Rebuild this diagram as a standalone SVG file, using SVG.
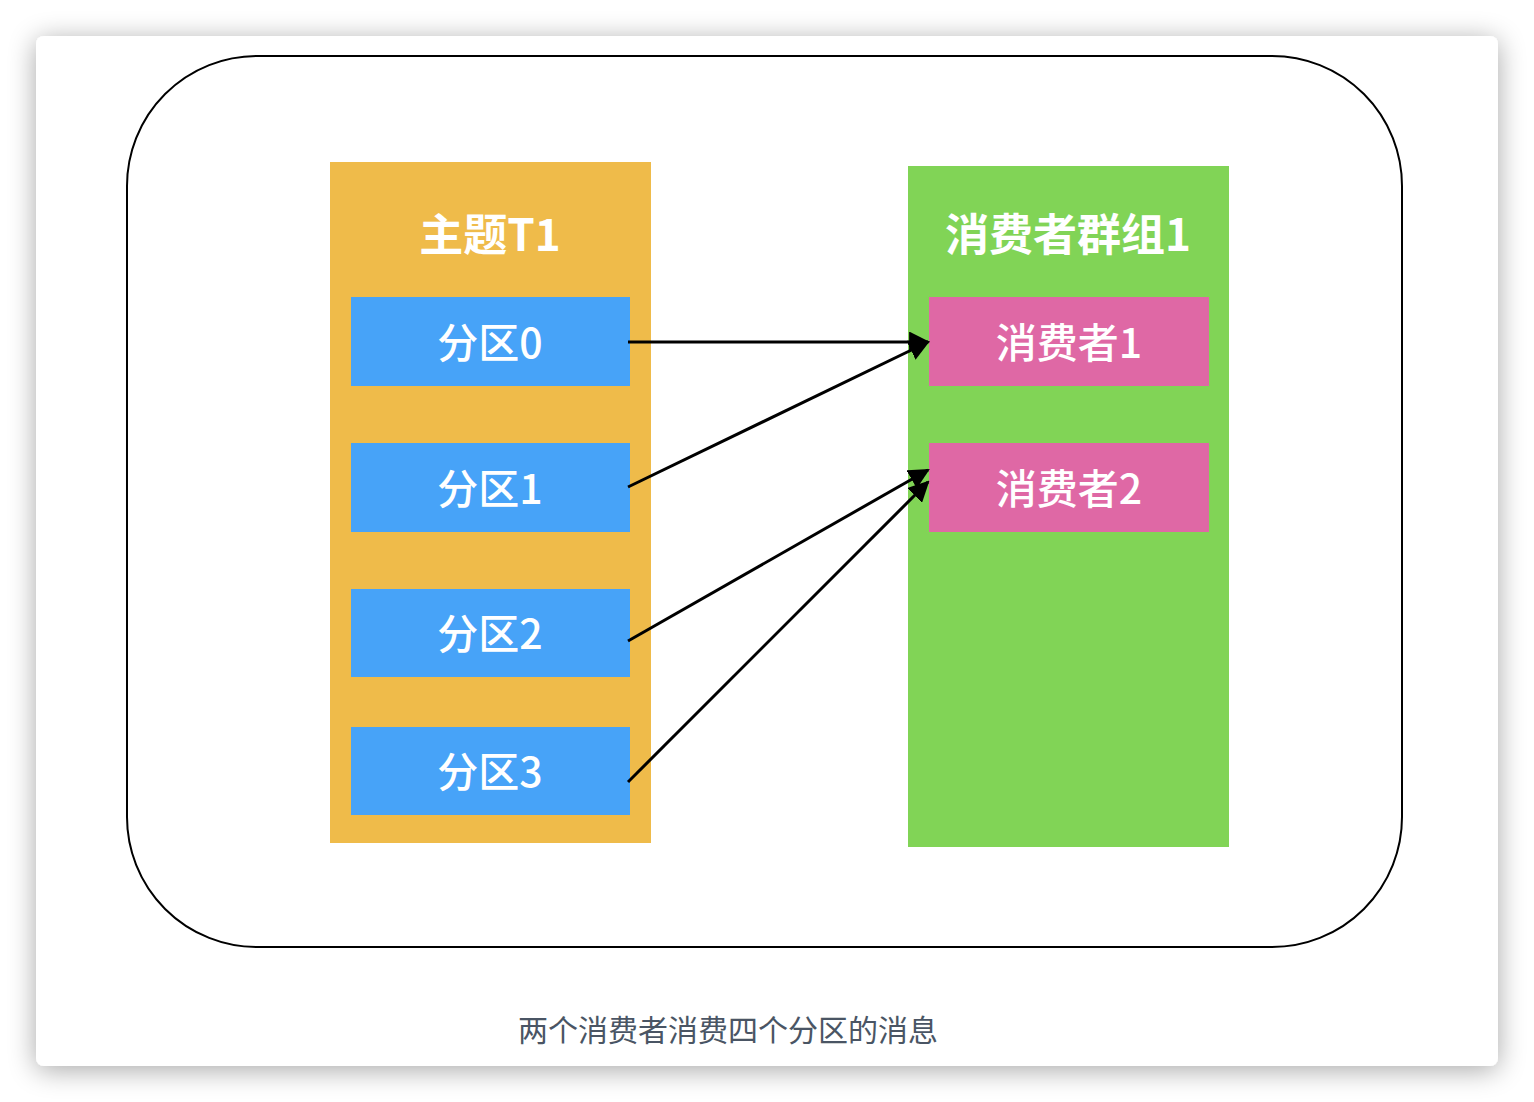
<svg xmlns="http://www.w3.org/2000/svg" width="1534" height="1102" viewBox="0 0 1534 1102">
<defs>
<filter id="sh" x="-10%" y="-10%" width="120%" height="120%">
<feGaussianBlur in="SourceAlpha" stdDeviation="14"/>
<feOffset dx="0" dy="4"/>
<feComponentTransfer><feFuncA type="linear" slope="0.35"/></feComponentTransfer>
<feMerge><feMergeNode/><feMergeNode in="SourceGraphic"/></feMerge>
</filter>
<marker id="ah" viewBox="0 0 10 10" refX="9" refY="5" markerWidth="7" markerHeight="7" markerUnits="strokeWidth" orient="auto">
<path d="M0,0 L10,5 L0,10 z" fill="#000"/>
</marker>
</defs>
<style>
text{font-family:"Noto Sans CJK SC","Noto Sans",sans-serif;text-anchor:middle;dominant-baseline:central;fill:#fff}
.title{font-size:44px;font-weight:bold}
.lbl{font-size:41px;font-weight:500}
.part{fill:#47a3f8}
.cons{fill:#df68a5}
.conn line{stroke:#000;stroke-width:3;marker-end:url(#ah)}
.cap{font-size:30px;fill:#4a5564;font-weight:normal}
</style>
<rect width="1534" height="1102" fill="#fff"/>
<rect x="36" y="36" width="1462" height="1030" rx="8" fill="#fff" filter="url(#sh)"/>
<rect x="127" y="56" width="1275" height="891" rx="130" fill="none" stroke="#000" stroke-width="2"/>
<g id="topic">
<rect x="330" y="162" width="321" height="681" fill="#efbb4a"/>
<text class="title" x="490" y="232">主题T1</text>
</g>
<g id="group">
<rect x="908" y="166" width="321" height="681" fill="#81d456"/>
<text class="title" x="1068" y="232">消费者群组1</text>
</g>
<g id="p0"><rect class="part" x="351" y="297" width="279" height="89"/><text class="lbl" x="490" y="340">分区0</text></g>
<g id="p1"><rect class="part" x="351" y="443" width="279" height="89"/><text class="lbl" x="490" y="486">分区1</text></g>
<g id="p2"><rect class="part" x="351" y="589" width="279" height="88"/><text class="lbl" x="490" y="631">分区2</text></g>
<g id="p3"><rect class="part" x="351" y="727" width="279" height="88"/><text class="lbl" x="490" y="769">分区3</text></g>
<g id="c1"><rect class="cons" x="929" y="297" width="280" height="89"/><text class="lbl" x="1069" y="340">消费者1</text></g>
<g id="c2"><rect class="cons" x="929" y="443" width="280" height="89"/><text class="lbl" x="1069" y="486">消费者2</text></g>
<g class="conn" id="connectors">
<line x1="628" y1="342" x2="928" y2="342"/>
<line x1="628" y1="487" x2="928" y2="342"/>
<line x1="628" y1="641" x2="928" y2="470"/>
<line x1="628" y1="782" x2="928" y2="482"/>
</g>
<text class="cap" x="728" y="1028">两个消费者消费四个分区的消息</text>
</svg>
